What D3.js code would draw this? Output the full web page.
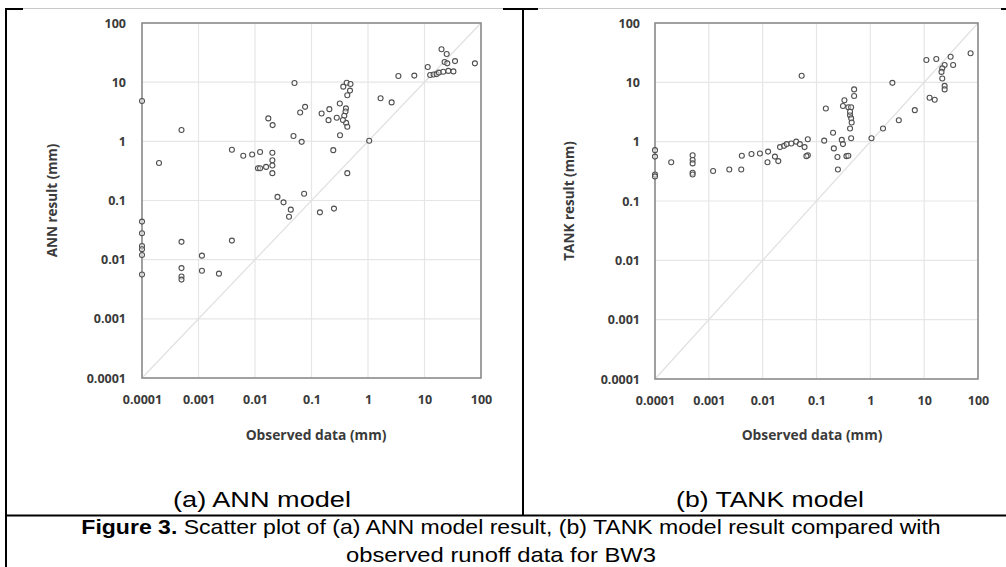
<!DOCTYPE html>
<html>
<head>
<meta charset="utf-8">
<script src="https://cdn.jsdelivr.net/npm/d3@7"></script>
<style>
  body { margin: 0; background: #fff; }
  svg { display: block; }
  .tick text { font-family: "Open Sans", sans-serif; font-weight: 700; fill: #3a3a3a; }
  .axisTitle { font-family: "Open Sans", sans-serif; font-weight: 700; fill: #3a3a3a; }
  .cap { font-family: "Liberation Sans", Arial, sans-serif; fill: #000; }
</style>
</head>
<body>
<div id="chart"></div>
<script>
const width = 1006;
const height = 567;

// tick values shared by both log axes
const tickValues = [0.0001, 0.001, 0.01, 0.1, 1, 10, 100];
const tickLabels = ['0.0001', '0.001', '0.01', '0.1', '1', '10', '100'];

// (a) ANN model: observed vs simulated runoff (mm)
const annObs = [0.0001, 0.0001, 0.0001, 0.0001, 0.0001, 0.0001, 0.0001, 0.0002, 0.0005, 0.0005,
    0.0005, 0.0005, 0.0005, 0.00115, 0.00115, 0.0023, 0.0039, 0.0039, 0.0062, 0.0089,
    0.0113, 0.0123, 0.0123, 0.0157, 0.0172, 0.0205, 0.0203, 0.0203, 0.0203, 0.0203,
    0.025, 0.032, 0.043, 0.04, 0.048, 0.05, 0.063, 0.067, 0.074, 0.077,
    0.141, 0.151, 0.2, 0.207, 0.243, 0.25, 0.28, 0.317, 0.32, 0.365,
    0.407, 0.41, 0.42, 0.43, 0.43, 0.43, 0.48, 0.49, 0.40, 0.38,
    0.36, 1.05, 1.67, 2.62, 3.45, 6.6, 11.4, 12.6, 14.5, 16.4,
    18, 20, 21.5, 22.7, 24.7, 25.3, 26.4, 32.5, 34.7, 78];
const annSim = [4.8, 0.044, 0.028, 0.017, 0.015, 0.012, 0.0056, 0.43, 1.55, 0.02,
    0.0072, 0.0052, 0.0046, 0.0117, 0.0065, 0.0058, 0.72, 0.021, 0.57, 0.60,
    0.35, 0.66, 0.35, 0.37, 2.44, 1.88, 0.64, 0.48, 0.39, 0.29,
    0.115, 0.093, 0.07, 0.053, 1.23, 9.66, 3.08, 0.98, 0.13, 3.83,
    0.063, 2.96, 2.28, 3.5, 0.71, 0.073, 2.5, 4.37, 1.27, 8.4,
    3.6, 2.05, 9.8, 6.0, 1.76, 0.29, 7.2, 9.3, 3.2, 2.7,
    2.3, 1.02, 5.35, 4.55, 12.7, 12.9, 18, 13.2, 13.5, 13.7,
    14.5, 36, 15, 21.9, 29.9, 20.8, 15.5, 15.2, 22.7, 20.8];

// (b) TANK model: observed vs simulated runoff (mm)
const tankObs = [0.0001, 0.0001, 0.0001, 0.0001, 0.0002, 0.0005, 0.0005, 0.0005, 0.0005, 0.0005,
    0.0012, 0.0024, 0.004, 0.0041, 0.0062, 0.0089, 0.0126, 0.0123, 0.0169, 0.0195,
    0.021, 0.025, 0.028, 0.034, 0.042, 0.049, 0.06, 0.069, 0.069, 0.065,
    0.053, 0.139, 0.149, 0.203, 0.21, 0.245, 0.25, 0.295, 0.31, 0.36,
    0.33, 0.31, 0.39, 0.44, 0.50, 0.50, 0.42, 0.44, 0.42, 0.44,
    0.39, 0.42, 0.45, 1.05, 1.72, 3.38, 6.7, 2.57, 11, 16.8,
    31, 34.5, 24, 21.7, 21, 21.7, 24, 24, 72.8, 12.6, 15.7];
const tankSim = [0.72, 0.56, 0.28, 0.26, 0.45, 0.59, 0.49, 0.43, 0.30, 0.28,
    0.32, 0.34, 0.34, 0.58, 0.62, 0.63, 0.68, 0.45, 0.56, 0.47,
    0.81, 0.85, 0.91, 0.93, 1.0, 0.91, 0.81, 1.1, 0.59, 0.57,
    12.9, 1.04, 3.63, 1.41, 0.77, 0.55, 0.34, 1.07, 0.91, 0.57,
    5.0, 3.98, 3.8, 3.8, 7.6, 5.9, 2.8, 2.47, 1.67, 1.14,
    0.58, 3.2, 2.1, 1.14, 1.67, 2.3, 3.4, 9.8, 23.8, 24.7,
    27, 19.6, 19.6, 17.2, 15, 11.6, 8.7, 7.6, 30.9, 5.5, 5.1];

const svg = d3.select('#chart')
    .append('svg')
    .attr('width', width)
    .attr('height', height);

// table frame of the figure
svg.append('line').attr('x1', 6).attr('x2', 1006).attr('y1', 9).attr('y2', 9)
    .attr('stroke', '#000').attr('stroke-width', 2);
// chart images sit on top of the frame, with a faint grey top edge
[[23, 503], [538, 1001]].forEach(function (r) {
    svg.append('rect').attr('x', r[0]).attr('y', 7).attr('width', r[1] - r[0]).attr('height', 4)
        .attr('fill', '#fff');
    svg.append('line').attr('x1', r[0]).attr('x2', r[1]).attr('y1', 8.5).attr('y2', 8.5)
        .attr('stroke', '#c8c8c8').attr('stroke-width', 1);
});
svg.append('line').attr('x1', 6).attr('x2', 6).attr('y1', 8).attr('y2', 567)
    .attr('stroke', '#000').attr('stroke-width', 2);
svg.append('line').attr('x1', 523).attr('x2', 523).attr('y1', 8).attr('y2', 516)
    .attr('stroke', '#000').attr('stroke-width', 2);
svg.append('line').attr('x1', 6).attr('x2', 1006).attr('y1', 515.5).attr('y2', 515.5)
    .attr('stroke', '#000').attr('stroke-width', 2);

// stretch a text horizontally so that it spans the wanted width around cx
function fitWidth(sel, cx, w) {
    const bw = sel.node().getBBox().width;
    const k = w / bw;
    sel.attr('transform', 'translate(' + cx + ',0) scale(' + k + ',1) translate(' + (-cx) + ',0)');
}

function drawPanel(p) {
    const xScale = d3.scaleLog().domain([0.0001, 100]).range([p.left, p.right]);
    const yScale = d3.scaleLog().domain([0.0001, 100]).range([p.bottom, p.top]);
    const g = svg.append('g');

    // grid
    g.selectAll('.vgrid').data(tickValues).enter().append('line')
        .attr('x1', d => xScale(d)).attr('x2', d => xScale(d))
        .attr('y1', p.top).attr('y2', p.bottom)
        .attr('stroke', '#e6e6e6').attr('stroke-width', 1.2);
    g.selectAll('.hgrid').data(tickValues).enter().append('line')
        .attr('x1', p.left).attr('x2', p.right)
        .attr('y1', d => yScale(d)).attr('y2', d => yScale(d))
        .attr('stroke', '#e6e6e6').attr('stroke-width', 1.2);

    // 1:1 line
    g.append('line')
        .attr('x1', xScale(0.0001)).attr('y1', yScale(0.0001))
        .attr('x2', xScale(100)).attr('y2', yScale(100))
        .attr('stroke', '#e0e0e0').attr('stroke-width', 1.2);

    // plot frame
    g.append('rect')
        .attr('x', p.left).attr('y', p.top)
        .attr('width', p.right - p.left).attr('height', p.bottom - p.top)
        .attr('fill', 'none').attr('stroke', '#8c8c8c').attr('stroke-width', 1.6);

    const xAxis = d3.axisBottom(xScale)
        .tickValues(tickValues)
        .tickFormat((d, i) => tickLabels[i])
        .tickSize(0).tickPadding(17);
    g.append('g').attr('class', 'axis')
        .attr('transform', 'translate(0,' + p.bottom + ')')
        .call(xAxis)
        .call(a => a.select('.domain').remove())
        .selectAll('text').style('font-size', '12.5px');

    const yAxis = d3.axisLeft(yScale)
        .tickValues(tickValues)
        .tickFormat((d, i) => tickLabels[i])
        .tickSize(0).tickPadding(p.left - p.labelX);
    g.append('g').attr('class', 'axis')
        .attr('transform', 'translate(' + p.left + ',0)')
        .call(yAxis)
        .call(a => a.select('.domain').remove())
        .selectAll('text').style('font-size', '12.5px');

    // points
    g.selectAll('.dot').data(p.obs).enter().append('circle')
        .attr('class', 'dot')
        .attr('cx', d => xScale(d))
        .attr('cy', (d, i) => yScale(p.sim[i]))
        .attr('r', 2.5)
        .attr('fill', '#fff')
        .attr('fill-opacity', 0.5)
        .attr('stroke', '#505050')
        .attr('stroke-width', 1.1);

    g.append('text').attr('class', 'axisTitle')
        .attr('x', p.titleX).attr('y', 440)
        .attr('text-anchor', 'middle').style('font-size', '13.8px')
        .text('Observed data (mm)');
    g.append('text').attr('class', 'axisTitle')
        .attr('transform', 'translate(' + p.yTitleX + ',' + ((p.top + p.bottom) / 2) + ') rotate(-90)')
        .attr('text-anchor', 'middle').style('font-size', '13.5px')
        .text(p.yTitle);

    const sub = svg.append('text').attr('class', 'cap')
        .attr('x', p.capX).attr('y', 507)
        .attr('text-anchor', 'middle').style('font-size', '22px')
        .text(p.caption);
    fitWidth(sub, p.capX, p.capW);
}

drawPanel({
    left: 142, right: 481, top: 23, bottom: 378, labelX: 126,
    obs: annObs, sim: annSim, yTitle: 'ANN result (mm)', yTitleX: 57,
    titleX: 316, capX: 262, capW: 178, caption: '(a) ANN model'
});
drawPanel({
    left: 655, right: 978, top: 23, bottom: 379, labelX: 640,
    obs: tankObs, sim: tankSim, yTitle: 'TANK result (mm)', yTitleX: 574,
    titleX: 812, capX: 770, capW: 188, caption: '(b) TANK model'
});

const cap = svg.append('text').attr('class', 'cap')
    .attr('x', 511).attr('y', 534).attr('text-anchor', 'middle').style('font-size', '20px');
cap.append('tspan').style('font-weight', 700).text('Figure 3.');
cap.append('tspan').text(' Scatter plot of (a) ANN model result, (b) TANK model result compared with');
fitWidth(cap, 511, 860);
const cap2 = svg.append('text').attr('class', 'cap')
    .attr('x', 501).attr('y', 562).attr('text-anchor', 'middle').style('font-size', '20px')
    .text('observed runoff data for BW3');
fitWidth(cap2, 501, 310);
</script>
</body>
</html>
